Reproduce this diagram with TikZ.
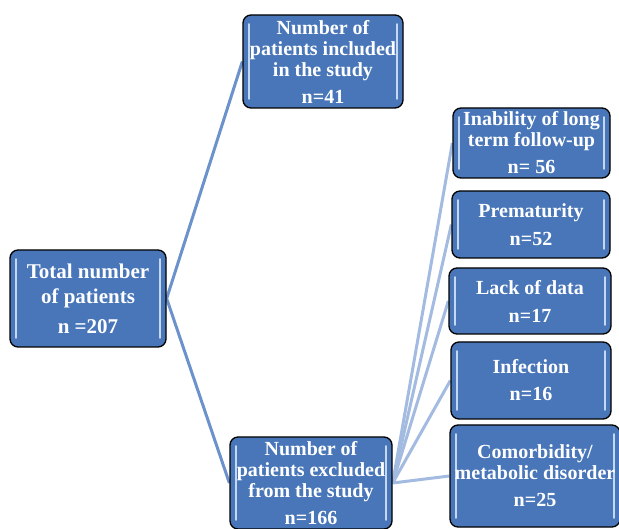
\documentclass[tikz,border=0pt]{standalone}
\usepackage{fontspec}
\setmainfont{Liberation Serif}
\usetikzlibrary{backgrounds}
\definecolor{boxblue}{RGB}{72,118,184}
\definecolor{rimblue}{RGB}{196,216,242}
\definecolor{linkdark}{RGB}{108,146,204}
\definecolor{linklight}{RGB}{163,187,224}

\begin{document}
\begin{tikzpicture}[x=1pt, y=-1pt,
  box/.style={draw=black, line width=1.3pt, rounded corners=8pt, fill=boxblue,
    text=white, align=center, inner sep=0pt,
    font=\fontsize{20}{21}\selectfont\bfseries,
    path picture={
      \draw[rimblue, line width=1.8pt, line cap=round]
        ([shift={(6pt,-9pt)}]path picture bounding box.north west) --
        ([shift={(6pt,9pt)}]path picture bounding box.south west);
      \draw[rimblue, line width=1.8pt, line cap=round]
        ([shift={(-6pt,-9pt)}]path picture bounding box.north east) --
        ([shift={(-6pt,9pt)}]path picture bounding box.south east);
    }},
  link/.style={line width=3pt}]
  \useasboundingbox (0,0) rectangle (619,529);

  \node[box, minimum width=156pt, minimum height=97pt,
    font=\fontsize{21}{25}\selectfont\bfseries] (total) at (88,298.5)
    {Total number\\of patients\\[5pt]n =207};
  \node[box, minimum width=160pt, minimum height=93pt] (incl) at (323,61.5)
    {Number of\\patients included\\in the study\\[6pt]n=41};
  \node[box, minimum width=162pt, minimum height=92pt] (excl) at (311,483)
    {Number of\\patients excluded\\from the study\\[6pt]n=166};

  \node[box, minimum width=157pt, minimum height=70pt] (inab) at (531.5,143)
    {Inability of long\\term follow-up\\[6pt]n= 56};
  \node[box, minimum width=158pt, minimum height=67pt] (prem) at (531,224.5)
    {Prematurity\\[7pt]n=52};
  \node[box, minimum width=162pt, minimum height=66pt] (lack) at (530,301)
    {Lack of data\\[7pt]n=17};
  \node[box, minimum width=160pt, minimum height=77pt] (infec) at (531,380.5)
    {Infection\\[6pt]n=16};
  \node[box, minimum width=170pt, minimum height=102pt] (comor) at (535,476)
    {Comorbidity/\\metabolic disorder\\[6pt]n=25};

  \begin{scope}[on background layer]
    \draw[link, linkdark] (total.east) -- (incl.west);
    \draw[link, linkdark] (total.east) -- (excl.west);
    \foreach \k in {inab,prem,lack,infec,comor}
      \draw[link, linklight] (excl.east) -- (\k.west);
  \end{scope}
\end{tikzpicture}
\end{document}
